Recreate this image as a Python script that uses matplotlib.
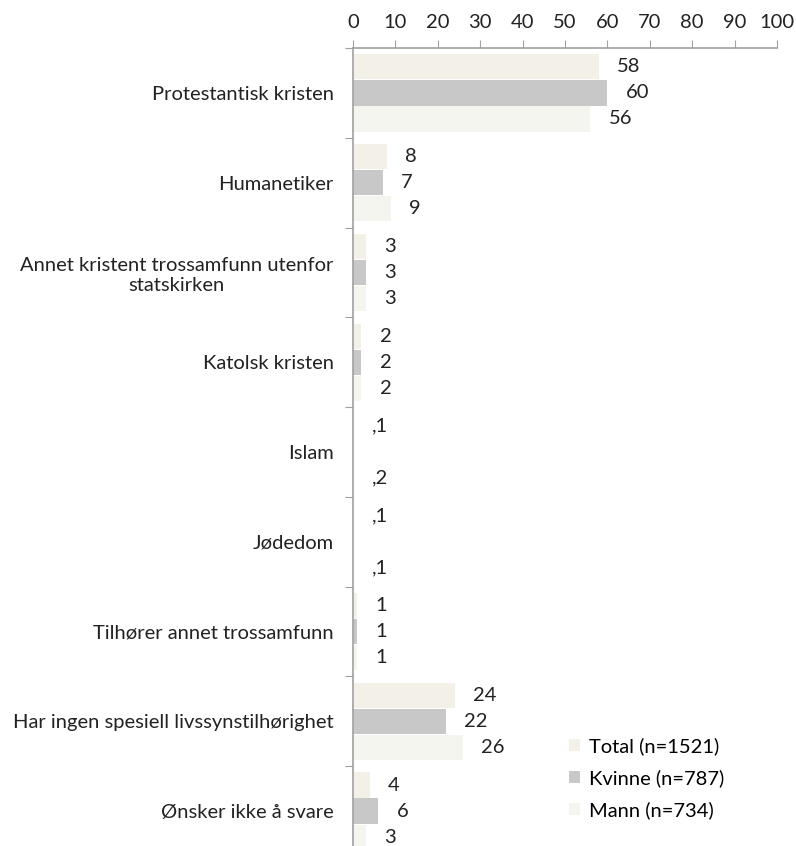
import numpy as np
import matplotlib.pyplot as plt

categories = [
    "Protestantisk kristen",
    "Humanetiker",
    "Annet kristent trossamfunn utenfor\nstatskirken",
    "Katolsk kristen",
    "Islam",
    "Jødedom",
    "Tilhører annet trossamfunn",
    "Har ingen spesiell livssynstilhørighet",
    "Ønsker ikke å svare",
]
total = [58, 8, 3, 2, 0.1, 0.1, 1, 24, 4]
kvinne = [60, 7, 3, 2, None, None, 1, 22, 6]
mann = [56, 9, 3, 2, 0.2, 0.1, 1, 26, 3]

series = [
    ("Total (n=1521)", total, "#f3f0e8"),
    ("Kvinne (n=787)", kvinne, "#c8c8c8"),
    ("Mann (n=734)", mann, "#f5f5ef"),
]


def fmt(v):
    if v < 1:
        return "," + str(int(round(v * 10)))
    return str(int(v))


plt.rcParams['font.family'] = ['Lato', 'DejaVu Sans']
fs = 14.5

fig = plt.figure(figsize=(7.96, 8.46), dpi=100)
ax = fig.add_axes([353 / 796, (846 - 856) / 846, 424 / 796, 808 / 846])

n = len(categories)
y = np.arange(n)
h = 0.29
for i, (name, vals, col) in enumerate(series):
    pos = y + (i - 1) * h
    v = np.array([np.nan if x is None else x for x in vals], dtype=float)
    ax.barh(pos, np.nan_to_num(v), height=h * 0.97, color=col, label=name)
    for p, x in zip(pos, vals):
        if x is None:
            continue
        ax.annotate(fmt(x), (x, p), xytext=(13, 0), textcoords="offset points",
                    va="center", ha="left", fontsize=fs, color="#222222")

ax.set_xlim(0, 100)
ax.set_ylim(n - 0.5, -0.5)
ax.xaxis.tick_top()
ax.set_xticks(range(0, 101, 10))
ax.tick_params(axis="x", which="major", length=6, color="#a0a0a0",
               labelsize=fs, labelcolor="#222222", pad=6)

ax.set_yticks(np.arange(n + 1) - 0.5)
ax.set_yticklabels([])
ax.tick_params(axis="y", which="major", length=6, color="#a0a0a0")
ax.set_yticks(y, minor=True)
ax.set_yticklabels(categories, minor=True, multialignment="center")
ax.tick_params(axis="y", which="minor", length=0, labelsize=fs,
               labelcolor="#222222", pad=14)

for s in ["right", "bottom"]:
    ax.spines[s].set_visible(False)
for s in ["left", "top"]:
    ax.spines[s].set_color("#a0a0a0")
    ax.spines[s].set_linewidth(1.2)

ax.legend(loc="upper left", bbox_to_anchor=(551 / 796, 1 - 719 / 846),
          bbox_transform=fig.transFigure, frameon=False, fontsize=fs,
          handlelength=0.55, handleheight=0.55, handletextpad=0.45,
          labelspacing=0.7)

fig.savefig("out.png", dpi=100)
